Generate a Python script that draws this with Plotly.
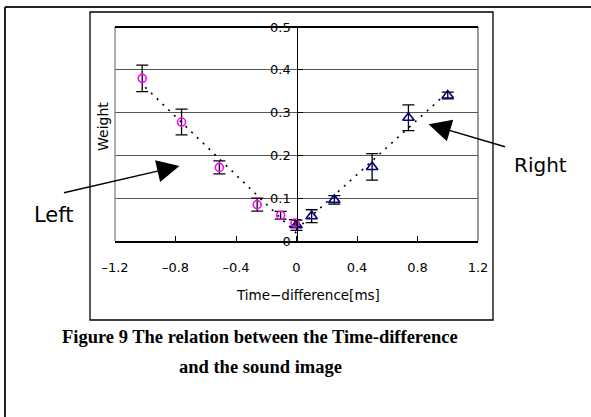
import numpy as np
import plotly.graph_objects as go

# ---- data ----
left_x = [-1.02, -0.76, -0.51, -0.26, -0.105, -0.01]
left_y = [0.380, 0.278, 0.172, 0.085, 0.060, 0.042]
left_err = [0.031, 0.030, 0.015, 0.015, 0.009, 0.008]

right_x = [0.0, 0.10, 0.25, 0.50, 0.74, 1.00]
right_y = [0.037, 0.058, 0.096, 0.173, 0.288, 0.340]
right_err = [0.012, 0.015, 0.010, 0.031, 0.030, 0.008]

x_ticks = [-1.2, -0.8, -0.4, 0, 0.4, 0.8, 1.2]
x_tick_text = ["\u20131.2", "\u20130.8", "\u20130.4", "0", "0.4", "0.8", "1.2"]
y_ticks = [0, 0.1, 0.2, 0.3, 0.4, 0.5]
y_tick_text = ["0", "0.1", "0.2", "0.3", "0.4", "0.5"]

W, H = 591, 417
L, R, T, B = 115, 478, 27, 241  # plot area in pixels


def px(xp):
    return (xp - L) / (R - L)


def py(yp):
    return (B - yp) / (B - T)


# linear trend lines fitted to each series
lc = np.polyfit(left_x, left_y, 1)
rc = np.polyfit(right_x, right_y, 1)
lt_x = [-1.0, 0.02]
rt_x = [0.0, 0.97]

fig = go.Figure()
fig.add_trace(go.Scatter(x=lt_x, y=np.polyval(lc, lt_x), mode="lines",
                         line=dict(color="black", width=1.6, dash="2px,6px"),
                         showlegend=False, hoverinfo="skip"))
fig.add_trace(go.Scatter(x=rt_x, y=np.polyval(rc, rt_x), mode="lines",
                         line=dict(color="black", width=1.6, dash="2px,6px"),
                         showlegend=False, hoverinfo="skip"))
fig.add_trace(go.Scatter(
    x=right_x, y=right_y, mode="markers", name="Right",
    marker=dict(symbol="triangle-up-open", size=10, color="#000080",
                line=dict(width=1.6, color="#000080")),
    error_y=dict(type="data", array=right_err, color="black", thickness=1.3, width=6),
    showlegend=False))
fig.add_trace(go.Scatter(
    x=left_x, y=left_y, mode="markers", name="Left",
    marker=dict(symbol="circle-open", size=8, color="#FF00FF",
                line=dict(width=1.6, color="#FF00FF")),
    error_y=dict(type="data", array=left_err, color="black", thickness=1.3, width=6),
    showlegend=False))

SANS = "DejaVu Sans, Verdana, sans-serif"
tick_font = dict(family=SANS, size=13, color="black")

fig.update_layout(
    width=W, height=H,
    margin=dict(l=L, r=W - R, t=T, b=H - B, pad=0, autoexpand=False),
    paper_bgcolor="white", plot_bgcolor="white",
    xaxis=dict(range=[-1.2, 1.2], tickvals=x_ticks, ticktext=x_tick_text,
               showgrid=False, zeroline=False, showline=True, linecolor="black",
               linewidth=1.5, ticks="inside", ticklen=5, tickcolor="black",
               tickfont=tick_font, ticklabelstandoff=14, automargin=False),
    yaxis=dict(range=[0, 0.5], tickvals=y_ticks, ticktext=y_tick_text,
               anchor="free", position=0.5, showgrid=True, gridcolor="#555555",
               gridwidth=1, zeroline=False, showline=True, linecolor="black",
               linewidth=1.3, ticks="inside", ticklen=5, tickcolor="black",
               tickfont=tick_font, ticklabelstandoff=3, automargin=False),
)

shapes = []
# plot area frame
shapes.append(dict(type="line", xref="paper", yref="paper", x0=0, x1=0, y0=0, y1=1,
                   line=dict(color="#777777", width=1.2)))
shapes.append(dict(type="line", xref="paper", yref="paper", x0=1, x1=1, y0=0, y1=1,
                   line=dict(color="#777777", width=1.5)))
shapes.append(dict(type="line", xref="paper", yref="paper", x0=0, x1=1, y0=1, y1=1,
                   line=dict(color="black", width=2)))
# chart box
shapes.append(dict(type="rect", xref="paper", yref="paper",
                   x0=px(90), x1=px(493), y0=py(320), y1=py(12),
                   line=dict(color="black", width=1.3), layer="below"))
# outer frame (top and left only)
shapes.append(dict(type="line", xref="paper", yref="paper",
                   x0=px(5), x1=px(591), y0=py(7), y1=py(7),
                   line=dict(color="#222222", width=2)))
shapes.append(dict(type="line", xref="paper", yref="paper",
                   x0=px(5), x1=px(5), y0=py(7), y1=py(417),
                   line=dict(color="#222222", width=2)))
fig.update_layout(shapes=shapes)

ann_font = dict(family=SANS, color="black")
SERIF = "Liberation Serif, Times New Roman, serif"
C = dict(xanchor="center", yanchor="middle", showarrow=False)
annotations = [
    dict(xref="paper", yref="paper", x=px(308), y=py(295), text="Time\u2212difference[ms]",
         font=dict(size=13.5, **ann_font), **C),
    dict(xref="paper", yref="paper", x=px(103), y=py(127), text="Weight", textangle=-90,
         font=dict(size=14, **ann_font), **C),
    dict(xref="paper", yref="paper", x=px(54), y=py(215), text="Left",
         font=dict(size=21, **ann_font), **C),
    dict(xref="paper", yref="paper", x=px(540), y=py(165), text="Right",
         font=dict(size=20, **ann_font), **C),
    dict(xref="x", yref="y", x=-0.774, y=0.175, ax=-117, ay=27, text="",
         showarrow=True, arrowhead=2, arrowsize=3.2, arrowwidth=1.4, arrowcolor="black"),
    dict(xref="x", yref="y", x=0.873, y=0.273, ax=78, ay=23, text="",
         showarrow=True, arrowhead=2, arrowsize=3.2, arrowwidth=1.4, arrowcolor="black"),
    dict(xref="paper", yref="paper", x=px(260), y=py(337),
         text="<b>Figure 9 The relation between the Time-difference</b>",
         font=dict(family=SERIF, size=18.5, color="black"), **C),
    dict(xref="paper", yref="paper", x=px(260), y=py(367),
         text="<b>and the sound image</b>",
         font=dict(family=SERIF, size=18.5, color="black"), **C),
]
fig.update_layout(annotations=annotations)

fig.write_html("out.html", config={"displayModeBar": False},
               post_script="document.body.style.margin='0px';")
